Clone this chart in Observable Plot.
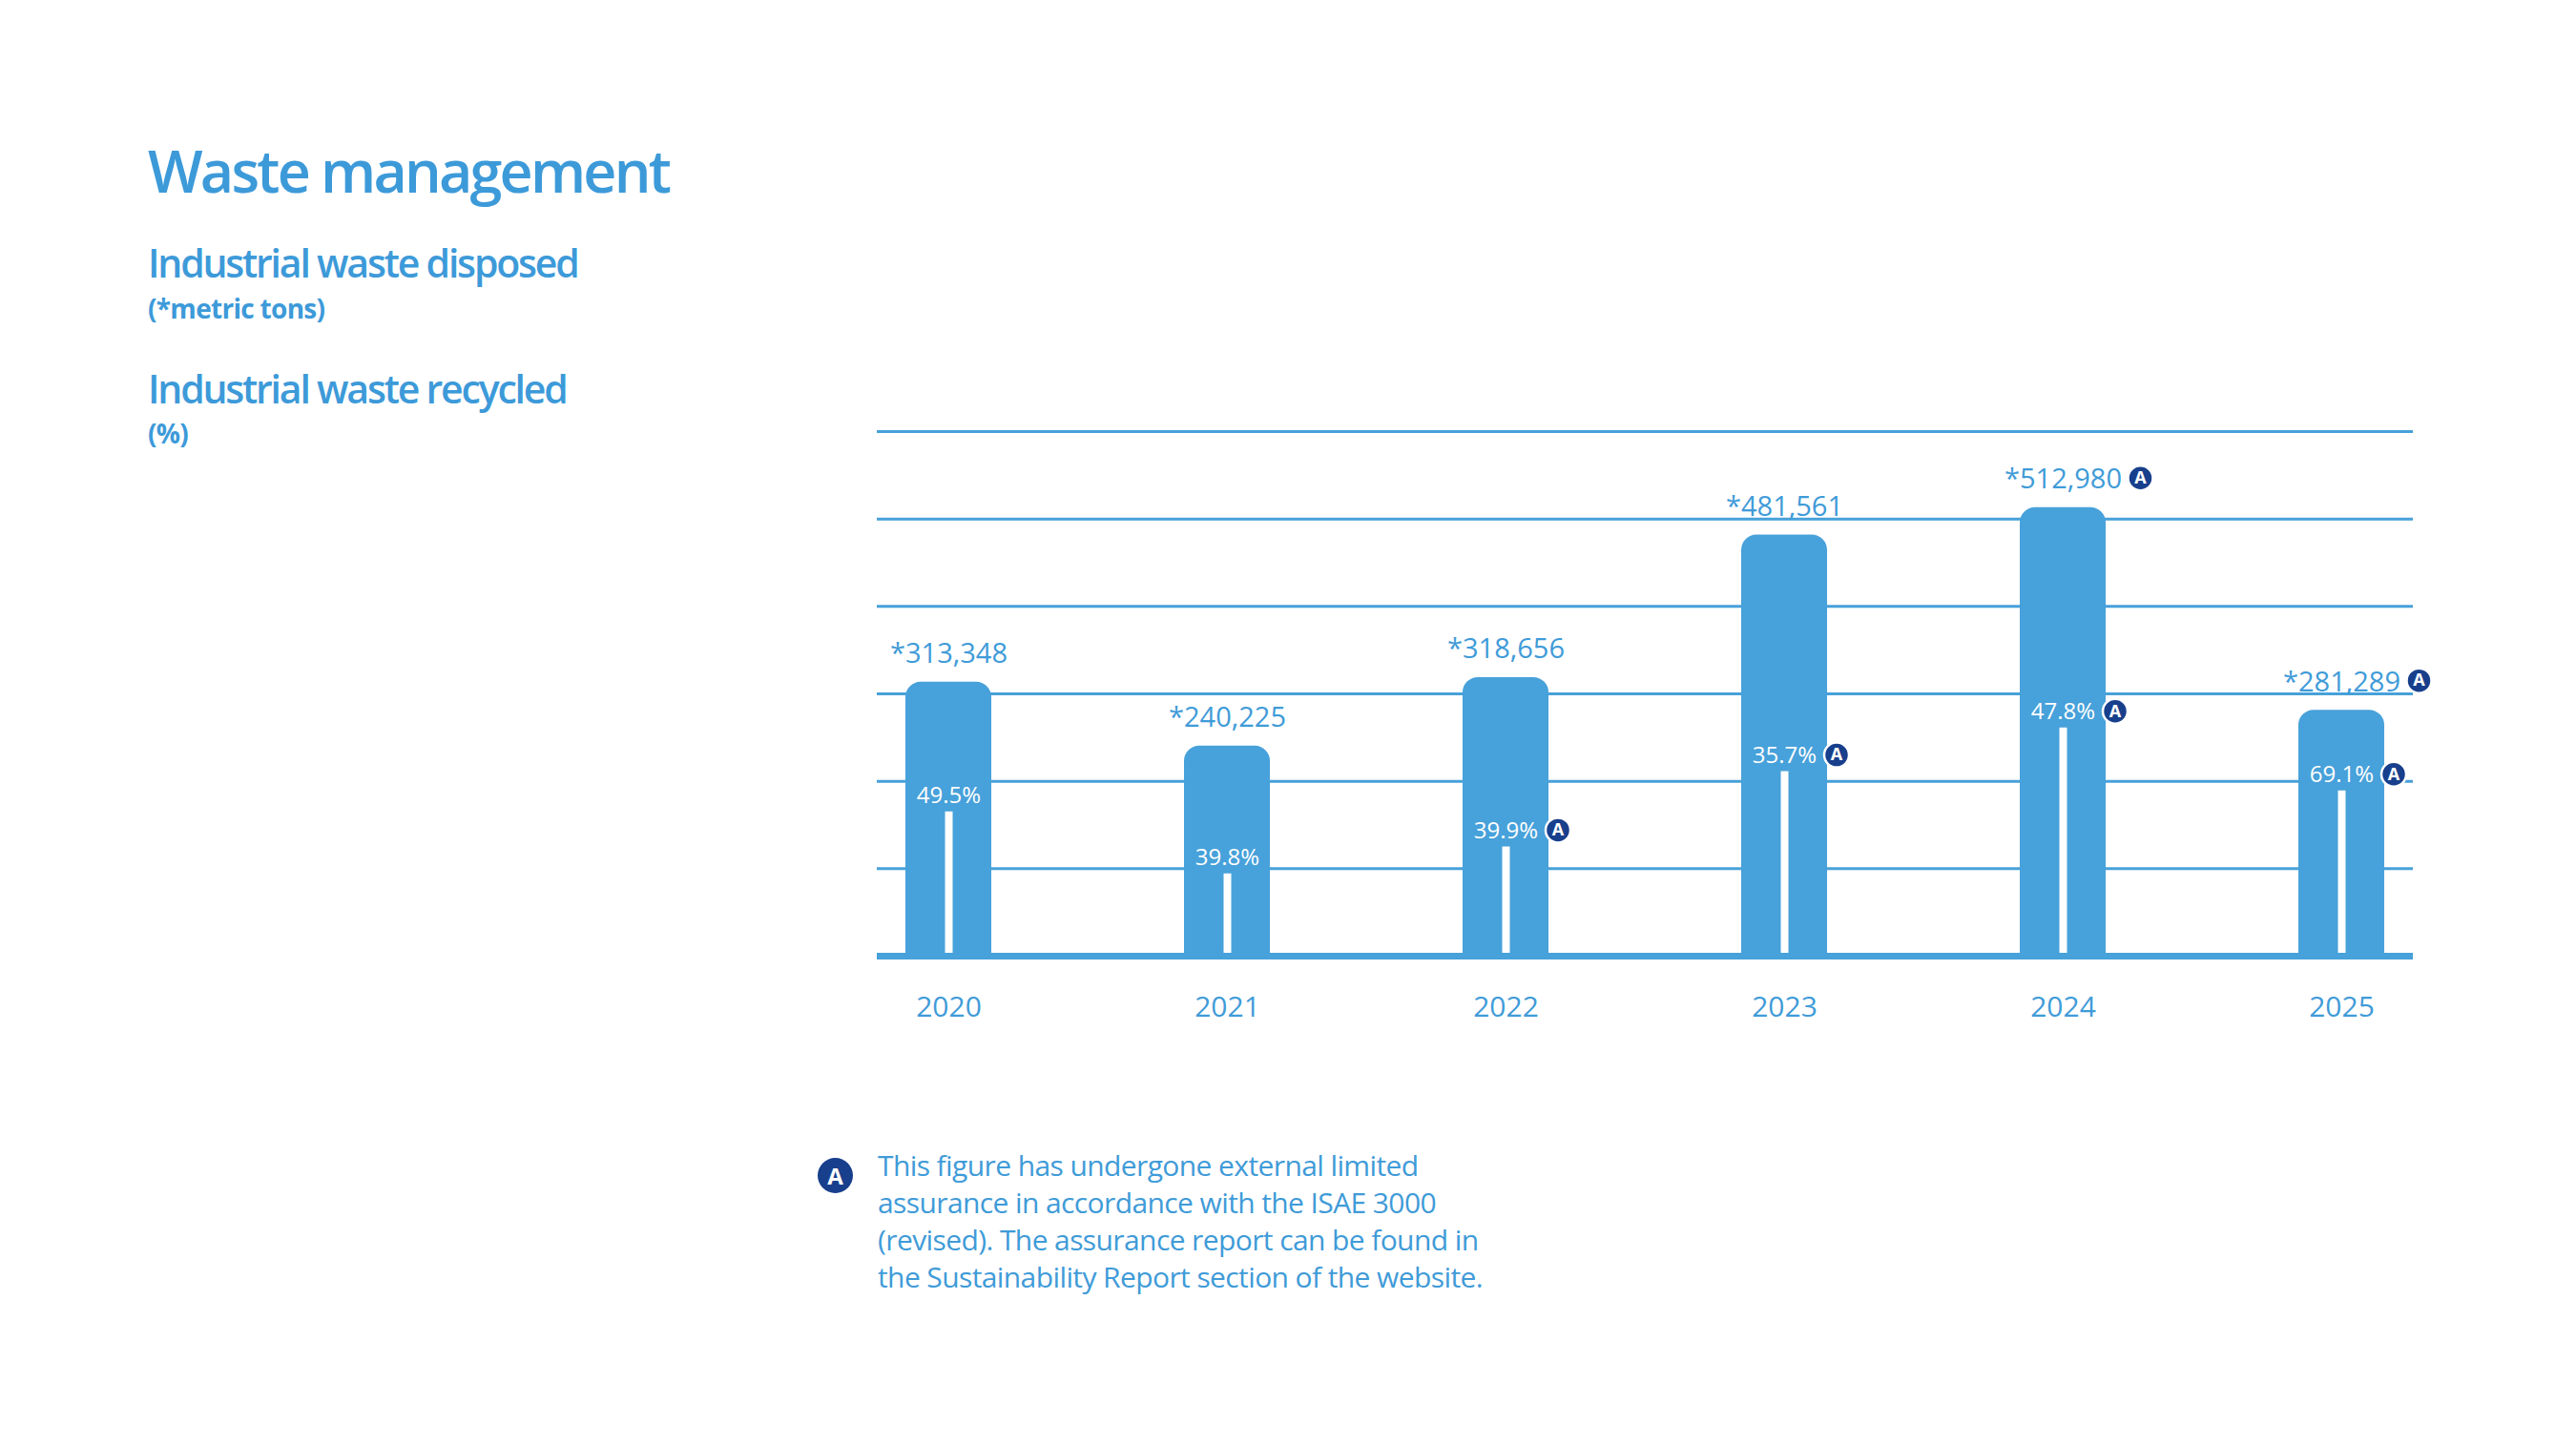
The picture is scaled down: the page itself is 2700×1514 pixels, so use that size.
<!DOCTYPE html>
<html>
<head>
<meta charset="utf-8">
<script src="https://cdn.jsdelivr.net/npm/d3@7"></script>
<script src="https://cdn.jsdelivr.net/npm/@observablehq/plot@0.6"></script>
<style>
  html, body { margin: 0; padding: 0; background: #ffffff; }
  #page { position: relative; width: 2700px; height: 1514px; overflow: hidden; font-family: "Open Sans", sans-serif; }
  .t { position: absolute; white-space: nowrap; line-height: 1; color: #3d9ad9; }
  #chart { position: absolute; left: 0; top: 0; }
  #note { position: absolute; left: 920px; top: 1203px; font-size: 30px; line-height: 38.9px; color: #3f9bd8; font-weight: 400; white-space: nowrap; letter-spacing: -0.6px; }
  #noteBadge { position: absolute; left: 857px; top: 1214px; width: 37px; height: 37px; border-radius: 50%; background: #183f8c; color: #fff; font-weight: 700; font-size: 24px; line-height: 37px; text-align: center; }
</style>
</head>
<body>
<div id="page">
  <div id="chart"></div>
  <div class="t" style="left:155px; top:148px; font-size:61px; font-weight:600; letter-spacing:-2.8px;">Waste management</div>
  <div class="t" style="left:155px; top:255px; font-size:41px; font-weight:600; letter-spacing:-2.2px;">Industrial waste disposed</div>
  <div class="t" style="left:155px; top:309px; font-size:28px; font-weight:700; letter-spacing:-0.7px;">(*metric tons)</div>
  <div class="t" style="left:155px; top:387px; font-size:41px; font-weight:600; letter-spacing:-2.2px;">Industrial waste recycled</div>
  <div class="t" style="left:155px; top:440px; font-size:28px; font-weight:700; letter-spacing:-0.7px;">(%)</div>
  <div id="noteBadge">A</div>
  <div id="note">This figure has undergone external limited<br>assurance in accordance with the ISAE 3000<br>(revised). The assurance report can be found in<br>the Sustainability Report section of the website.</div>
</div>
<script>
// ---- data ----
const years = ["2020", "2021", "2022", "2023", "2024", "2025"];
const disposedTons = [313348, 240225, 318656, 481561, 512980, 281289];
const recycledPct = [49.5, 39.8, 39.9, 35.7, 47.8, 69.1];
// height of the white inner bar (metric tons)
const recycledBarTons = [165000, 94000, 125000, 211000, 261000, 189000];
const assuredDisposed = [false, false, false, false, true, true];
const assuredRecycled = [false, false, true, true, true, true];
const gridTicks = [100000, 200000, 300000, 400000, 500000, 600000];

const blue = "#47a1da";
const textBlue = "#3f9bd8";
const navy = "#183f8c";
const fmt = d3.format(",");

const rows = years.map((year, i) => ({
  year,
  disposed: disposedTons[i],
  pct: recycledPct[i],
  recycled: recycledBarTons[i],
  aD: assuredDisposed[i],
  aR: assuredRecycled[i]
}));

const badgeOpts = {r: 13, fill: navy, stroke: "white", strokeWidth: 2.5};
const badgeText = {text: () => "A", fill: "white", fontSize: 18, fontWeight: 700, lineAnchor: "middle"};

const chart = Plot.plot({
  width: 2700,
  height: 1514,
  marginLeft: 919,
  marginRight: 171,
  marginTop: 452,
  marginBottom: 512,
  style: {fontFamily: "'Open Sans', sans-serif", background: "transparent", overflow: "visible"},
  x: {type: "band", domain: years, paddingInner: 0.692, paddingOuter: 0.096},
  y: {domain: [0, 600000], axis: null},
  marks: [
    Plot.ruleY(gridTicks, {stroke: blue, strokeWidth: 3}),
    Plot.barY(rows, {x: "year", y: "disposed", fill: blue, rx: 16}),
    Plot.barY(rows, {x: "year", y: "disposed", fill: blue, insetTop: 20}),
    Plot.ruleX(rows, {x: "year", y1: 0, y2: "recycled", stroke: "white", strokeWidth: 8}),
    Plot.ruleY([0], {stroke: blue, strokeWidth: 7}),
    Plot.text(rows, {x: "year", y: "disposed", text: d => "*" + fmt(d.disposed), dy: -20, lineAnchor: "bottom", fontSize: 29, fill: textBlue}),
    Plot.text(rows, {x: "year", y: "recycled", text: d => d.pct.toFixed(1) + "%", dy: -9, lineAnchor: "bottom", fontSize: 24, fill: "white"}),
    Plot.dot(rows.filter(d => d.aD), {x: "year", y: "disposed", dx: 81, dy: -31, ...badgeOpts}),
    Plot.text(rows.filter(d => d.aD), {x: "year", y: "disposed", dx: 81, dy: -31, ...badgeText}),
    Plot.dot(rows.filter(d => d.aR), {x: "year", y: "recycled", dx: 54.5, dy: -17.5, ...badgeOpts}),
    Plot.text(rows.filter(d => d.aR), {x: "year", y: "recycled", dx: 54.5, dy: -17.5, ...badgeText}),
    Plot.axisX({tickSize: 0, tickPadding: 42, fontSize: 30, fill: textBlue, label: null})
  ]
});
document.getElementById("chart").appendChild(chart);
</script>
</body>
</html>
